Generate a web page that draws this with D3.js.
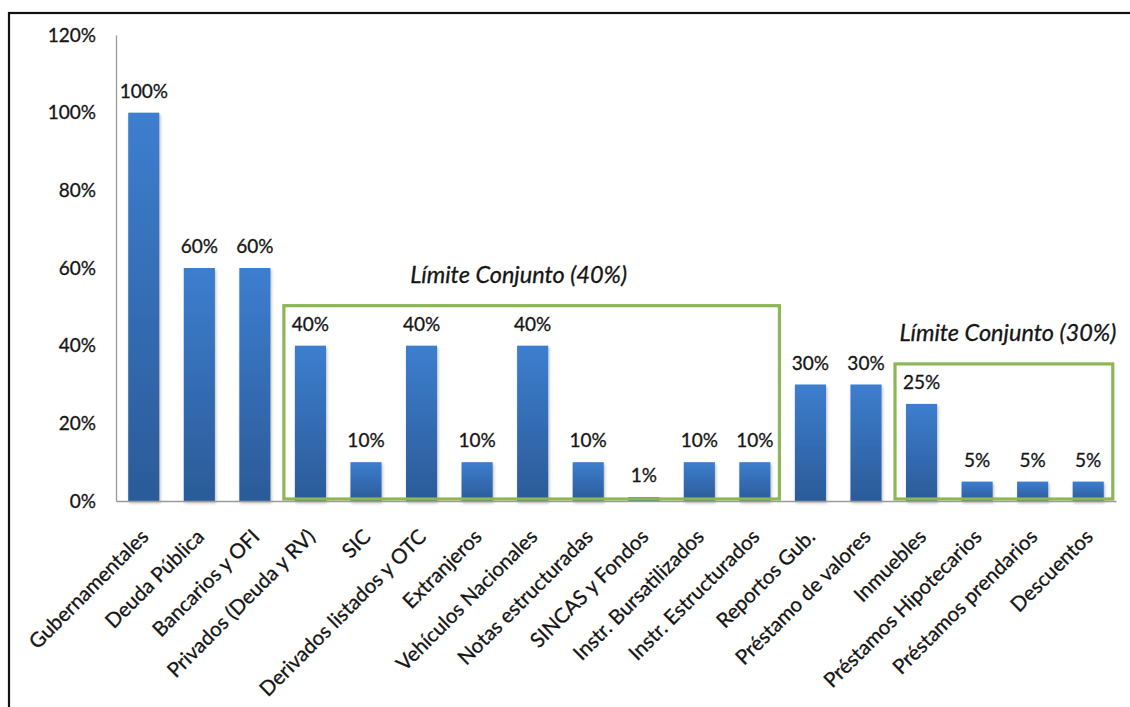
<!DOCTYPE html>
<html>
<head>
<meta charset="utf-8">
<script src="https://cdn.jsdelivr.net/npm/d3@7"></script>
<style>
  html, body { margin: 0; padding: 0; background: #fff; }
  svg { display: block; }
  text {
    font-family: Lato, "Open Sans", sans-serif;
    fill: #151515;
    stroke: #151515;
    stroke-width: 0.3px;
  }
</style>
</head>
<body>
<svg id="chart" width="1130" height="707"></svg>
<script>
// Límites de inversión por tipo de instrumento (% del portafolio)
const categories = [
  "Gubernamentales", "Deuda Pública", "Bancarios y OFI", "Privados (Deuda y RV)",
  "SIC", "Derivados listados y OTC", "Extranjeros", "Vehículos Nacionales",
  "Notas estructuradas", "SINCAS y Fondos", "Instr. Bursatilizados",
  "Instr. Estructurados", "Reportos Gub.", "Préstamo de valores", "Inmuebles",
  "Préstamos Hipotecarios", "Préstamos prendarios", "Descuentos"
];
const limits = [100, 60, 60, 40, 10, 40, 10, 40, 10, 1, 10, 10, 30, 30, 25, 5, 5, 5];
const yTicks = [0, 20, 40, 60, 80, 100, 120];

// Grupos con límite conjunto
const groupLabels = ["Límite Conjunto (40%)", "Límite Conjunto (30%)"];
const groupFirst = ["Privados (Deuda y RV)", "Inmuebles"];
const groupLast = ["Instr. Estructurados", "Descuentos"];

const svg = d3.select("#chart");
const margin = { left: 116, right: 14, top: 35, bottom: 206 };
const W = 1130, H = 707;

const x = d3.scaleBand()
  .domain(categories)
  .range([margin.left, W - margin.right])
  .paddingInner(0.44)
  .paddingOuter(0.22);

const y = d3.scaleLinear()
  .domain([0, 120])
  .range([H - margin.bottom, margin.top]);

const defs = svg.append("defs");
const grad = defs.append("linearGradient")
  .attr("id", "barFill").attr("x1", 0).attr("y1", 0).attr("x2", 0).attr("y2", 1);
grad.append("stop").attr("offset", "0%").attr("stop-color", "#3d7ecf");
grad.append("stop").attr("offset", "100%").attr("stop-color", "#2b5b98");

const shadow = defs.append("filter").attr("id", "barShadow")
  .attr("x", "-30%").attr("y", "-10%").attr("width", "160%").attr("height", "130%");
shadow.append("feDropShadow")
  .attr("dx", 1).attr("dy", 2).attr("stdDeviation", 1.6)
  .attr("flood-color", "#000").attr("flood-opacity", 0.28);

// Marco exterior
svg.append("rect")
  .attr("x", 9).attr("y", 13).attr("width", 1200).attr("height", 800)
  .attr("fill", "none").attr("stroke", "#111").attr("stroke-width", 2.2);

// Eje Y
const yAxis = d3.axisLeft(y)
  .tickValues(yTicks)
  .tickSize(0)
  .tickPadding(20)
  .tickFormat(d => d + "%");
const gy = svg.append("g")
  .attr("transform", `translate(${margin.left},0)`)
  .call(yAxis);
gy.select(".domain").attr("stroke", "#9a9a9a").attr("stroke-width", 1.3);
gy.selectAll("text")
  .style("font-size", "19px")
  .attr("fill", "#151515");

// Barras
svg.append("g").selectAll("rect")
  .data(limits)
  .join("rect")
  .attr("x", (d, i) => x(categories[i]))
  .attr("y", d => y(d))
  .attr("width", x.bandwidth())
  .attr("height", d => y(0) - y(d))
  .attr("fill", "url(#barFill)")
  .attr("filter", "url(#barShadow)");

// Eje X
const xAxis = d3.axisBottom(x).tickSize(0).tickFormat("");
const gx = svg.append("g")
  .attr("transform", `translate(0,${y(0)})`)
  .call(xAxis);
gx.select(".domain").attr("stroke", "#9a9a9a").attr("stroke-width", 1.3);

// Etiquetas de categoría, rotadas
svg.append("g").selectAll("text")
  .data(categories)
  .join("text")
  .attr("transform", d => `translate(${x(d) + x.bandwidth() / 2 + 6},${y(0) + 37}) rotate(-45)`)
  .attr("text-anchor", "end")
  .style("font-size", "20.5px")
  .text(d => d);

// Recuadros de límite conjunto
const titleShift = [-13, 4];
groupLabels.forEach((label, g) => {
  const i0 = categories.indexOf(groupFirst[g]);
  const i1 = categories.indexOf(groupLast[g]);
  const maxVal = d3.max(limits.slice(i0, i1 + 1));
  const x0 = x(categories[i0]) - 11;
  const x1 = x(categories[i1]) + x.bandwidth() + 9;
  const top = y(maxVal) - 40;
  const bottom = y(0) - 2;
  svg.append("rect")
    .attr("x", x0).attr("y", top)
    .attr("width", x1 - x0).attr("height", bottom - top)
    .attr("fill", "none")
    .attr("stroke", "#8db654")
    .attr("stroke-width", 3.2);
  svg.append("text")
    .attr("x", (x0 + x1) / 2 + titleShift[g])
    .attr("y", top - 23)
    .attr("text-anchor", "middle")
    .style("font-size", "23.5px")
    .style("font-style", "italic")
    .text(label);
});

// Etiquetas de valor
svg.append("g").selectAll("text")
  .data(limits)
  .join("text")
  .attr("x", (d, i) => x(categories[i]) + x.bandwidth() / 2)
  .attr("y", d => y(d) - 15)
  .attr("text-anchor", "middle")
  .style("font-size", "19px")
  .text(d => d + "%");
</script>
</body>
</html>
